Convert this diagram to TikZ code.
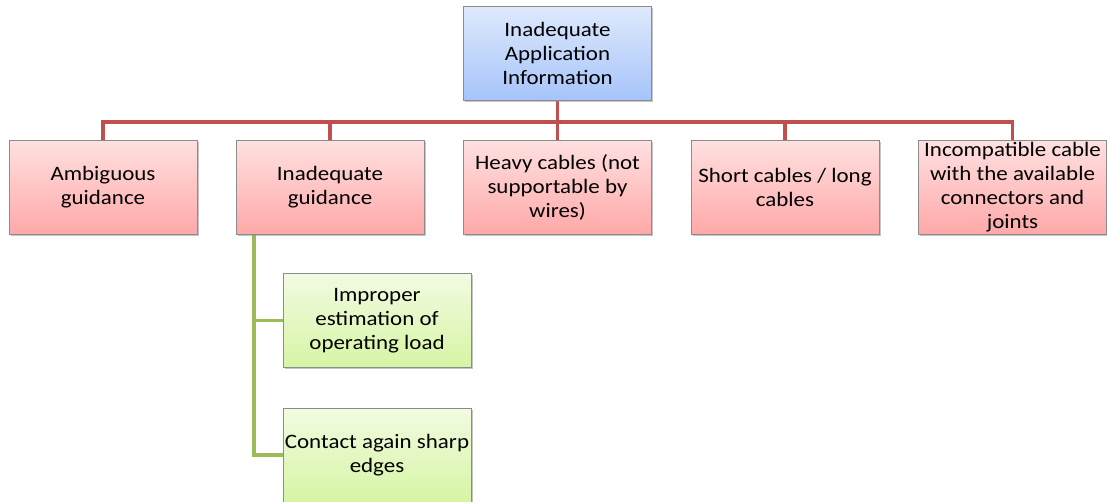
\documentclass[tikz,border=0pt]{standalone}
\usepackage{fontspec}
\setmainfont{Carlito}[FakeStretch=1.12]
\usetikzlibrary{shadows}
\pgfdeclarelayer{background}
\pgfsetlayers{background,main}
\definecolor{redline}{HTML}{C0504D}
\definecolor{greenline}{HTML}{9BBB59}
\definecolor{boxedge}{HTML}{8C8C8C}
\definecolor{bluetop}{RGB}{222,233,252}
\definecolor{bluebot}{RGB}{166,196,250}
\definecolor{redtop}{RGB}{255,224,224}
\definecolor{redbot}{RGB}{255,168,168}
\definecolor{greentop}{RGB}{242,251,226}
\definecolor{greenbot}{RGB}{214,245,164}
\tikzset{
  card/.style={draw=boxedge, line width=0.6pt, minimum width=188pt, minimum height=94pt,
    align=center, font=\fontsize{20.5}{24}\selectfont, inner sep=0pt,
    drop shadow={shadow xshift=1.5pt, shadow yshift=-1.5pt, fill=black!45, opacity=0.5}},
  rootcard/.style={card, top color=bluetop, bottom color=bluebot},
  redcard/.style={card, top color=redtop, bottom color=redbot},
  greencard/.style={card, top color=greentop, bottom color=greenbot},
  redlink/.style={draw=redline, line width=3.5pt},
  greenlink/.style={draw=greenline, line width=3.5pt}
}
\begin{document}
\begin{tikzpicture}[x=1pt,y=-1pt]
\useasboundingbox (0,0) rectangle (1107,501);
% boxes
\node[rootcard] (root) at (557.5,53.5) {Inadequate\\Application\\Information};
\node[redcard] (a) at (103,187.5) {Ambiguous\\guidance};
\node[redcard] (b) at (330,187.5) {Inadequate\\guidance};
\node[redcard] (c) at (557.5,187.5) {Heavy cables (not\\supportable by\\wires)};
\node[redcard] (d) at (785,187.5) {Short cables / long\\cables};
\node[redcard] (e) at (1012.5,187.5) {Incompatible cable\\with the available\\connectors and\\joints};
\node[greencard] (f) at (377,320.5) {Improper\\estimation of\\operating load};
\node[greencard] (g) at (377,455) {Contact again sharp\\edges};
% bus line and trunk position
\coordinate (bus) at (557,122);
\coordinate (trunk) at (254,0);
% connectors behind the boxes
\begin{pgfonlayer}{background}
\path[redlink] (root.south) -- (root.south |- bus);
\path[redlink, line join=miter] (a.north) |- (bus) -| (e.north);
\path[redlink] (b.north) -- (b.north |- bus);
\path[redlink] (c.north) -- (c.north |- bus);
\path[redlink] (d.north) -- (d.north |- bus);
\path[greenlink] (trunk |- b.south) |- (g.west);
\path[greenlink] (trunk |- f.west) -- (f.west);
\end{pgfonlayer}
\end{tikzpicture}
\end{document}
